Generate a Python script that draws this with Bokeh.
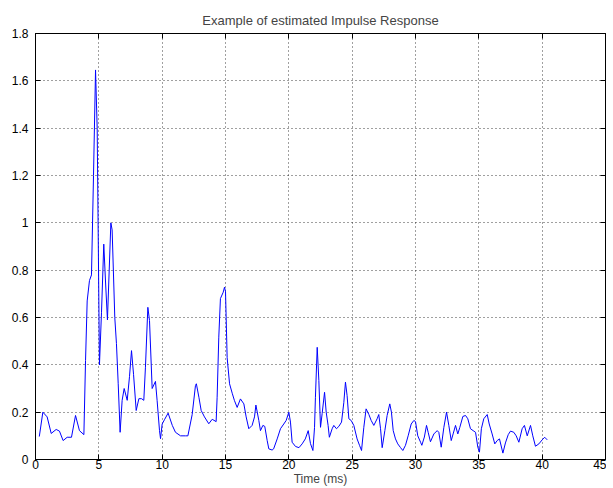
from bokeh.plotting import figure
from bokeh.models import LinearAxis, FixedTicker, CustomJSTickFormatter, Range1d
from bokeh.embed import file_html
from bokeh.resources import INLINE

# Time (ms) and amplitude
t_ms = [0.30, 0.58, 0.92, 1.24, 1.63, 1.89, 2.18, 2.50, 2.84, 3.16, 3.47, 3.82, 3.95, 4.08,
        4.26, 4.42, 4.58, 4.74, 4.87, 5.05, 5.21, 5.39, 5.53, 5.68, 5.95, 6.05, 6.26, 6.39,
        6.53, 6.68, 6.84, 7.00, 7.24, 7.42, 7.58, 7.74, 7.95, 8.16, 8.37, 8.55, 8.68, 8.87,
        9.00, 9.21, 9.47, 9.60, 9.79, 9.87, 10.00, 10.20, 10.47, 10.80, 11.05, 11.45, 11.84,
        12.03, 12.37, 12.63, 12.70, 12.90, 13.08, 13.34, 13.68, 13.95, 14.26, 14.34, 14.47,
        14.60, 14.82, 14.92, 15.00, 15.13, 15.32, 15.53, 15.70, 15.92, 16.18, 16.45, 16.63,
        16.84, 17.10, 17.29, 17.40, 17.63, 17.76, 17.95, 18.10, 18.29, 18.42, 18.68, 18.80,
        19.08, 19.34, 19.60, 19.79, 20.00, 20.13, 20.26, 20.53, 20.80, 21.05, 21.30, 21.53,
        21.71, 21.90, 22.03, 22.10, 22.24, 22.37, 22.50, 22.63, 22.82, 22.95, 23.10, 23.20,
        23.42, 23.55, 23.76, 23.95, 24.16, 24.34, 24.47, 24.60, 24.74, 24.92, 25.13, 25.39,
        25.58, 25.74, 25.92, 26.10, 26.32, 26.50, 26.71, 26.97, 27.10, 27.24, 27.37, 27.58,
        27.76, 27.97, 28.10, 28.24, 28.42, 28.60, 28.82, 29.00, 29.21, 29.42, 29.66, 29.87,
        30.00, 30.18, 30.40, 30.50, 30.70, 30.87, 31.00, 31.18, 31.45, 31.71, 31.84, 32.03,
        32.24, 32.45, 32.63, 32.82, 32.97, 33.16, 33.34, 33.50, 33.74, 33.95, 34.13, 34.34,
        34.55, 34.74, 34.92, 35.05, 35.20, 35.39, 35.66, 35.82, 36.05, 36.26, 36.45, 36.63,
        36.90, 37.10, 37.32, 37.50, 37.76, 37.95, 38.16, 38.42, 38.60, 38.82, 39.08, 39.26,
        39.47, 39.74, 40.00, 40.20, 40.40]
amplitude = [0.097, 0.20, 0.18, 0.11, 0.127, 0.12, 0.08, 0.094, 0.094, 0.186, 0.122, 0.105, 0.418, 0.67,
             0.756, 0.78, 1.20, 1.646, 1.40, 0.40, 0.62, 0.91, 0.75, 0.59, 1.00, 0.97, 0.60, 0.49,
             0.32, 0.115, 0.25, 0.30, 0.25, 0.35, 0.46, 0.36, 0.207, 0.257, 0.257, 0.25, 0.39, 0.643,
             0.587, 0.30, 0.33, 0.25, 0.122, 0.088, 0.15, 0.17, 0.196, 0.144, 0.115, 0.10, 0.10,
             0.10, 0.19, 0.313, 0.32, 0.263, 0.207, 0.18, 0.151, 0.17, 0.16, 0.263, 0.517,
             0.68, 0.707, 0.728, 0.71, 0.43, 0.32, 0.28, 0.25, 0.22, 0.256, 0.235, 0.18,
             0.13, 0.144, 0.18, 0.23, 0.165, 0.122, 0.144, 0.14, 0.08, 0.045, 0.04, 0.045,
             0.087, 0.13, 0.15, 0.165, 0.20, 0.158, 0.073, 0.055, 0.05, 0.066, 0.087, 0.122,
             0.067, 0.038, 0.136, 0.263, 0.474, 0.334, 0.136, 0.194, 0.284, 0.20, 0.144, 0.094,
             0.13, 0.144, 0.13, 0.14, 0.158, 0.24, 0.327, 0.27, 0.172, 0.165, 0.144, 0.087,
             0.06, 0.038, 0.136, 0.214, 0.19, 0.165, 0.144, 0.172, 0.19, 0.13, 0.05, 0.122,
             0.186, 0.235, 0.20, 0.122, 0.087, 0.066, 0.05, 0.038, 0.06, 0.10, 0.15, 0.165,
             0.16, 0.10, 0.073, 0.06, 0.095, 0.144, 0.115, 0.075, 0.108, 0.122, 0.115, 0.052,
             0.136, 0.20, 0.144, 0.08, 0.108, 0.144, 0.108, 0.136, 0.182, 0.186, 0.172, 0.13,
             0.122, 0.115, 0.052, 0.031, 0.13, 0.172, 0.19, 0.15, 0.108, 0.066, 0.08, 0.087,
             0.027, 0.07, 0.105, 0.12, 0.115, 0.10, 0.073, 0.13, 0.144, 0.10, 0.144, 0.10,
             0.056, 0.066, 0.083, 0.094, 0.083]

x_ticks = [0, 5, 10, 15, 20, 25, 30, 35, 40, 45]
y_ticks = [0, 0.2, 0.4, 0.6, 0.8, 1.0, 1.2, 1.4, 1.6, 1.8]

FONT = "Liberation Sans"

p = figure(width=606, height=488, output_backend="svg", toolbar_location=None,
           x_range=Range1d(0, 45), y_range=Range1d(0, 1.8),
           title="Example of estimated Impulse Response",
           min_border_left=35, min_border_right=1, min_border_top=33, min_border_bottom=0)

p.line(t_ms, amplitude, line_color="#0000ff", line_width=1)

p.title.align = "center"
p.title.text_font = FONT
p.title.text_font_size = "13px"
p.title.text_font_style = "normal"
p.title.standoff = 12

p.outline_line_color = "black"
p.outline_line_width = 1
p.outline_line_alpha = 1
p.background_fill_color = "white"
p.border_fill_color = "white"

fmt = CustomJSTickFormatter(code="return Number(tick.toFixed(2)).toString();")

for ax, ticks in ((p.xaxis[0], x_ticks), (p.yaxis[0], y_ticks)):
    ax.ticker = FixedTicker(ticks=ticks)
    ax.formatter = fmt
    ax.major_tick_in = 5
    ax.major_tick_out = 0
    ax.minor_tick_line_color = None
    ax.axis_line_color = "black"
    ax.major_tick_line_color = "black"
    ax.major_label_text_font = FONT
    ax.major_label_text_font_size = "12px"
    ax.major_label_text_color = "black"

p.yaxis[0].major_label_standoff = 7
p.xaxis[0].major_label_standoff = 0
p.xaxis[0].axis_label = "Time (ms)"
p.xaxis[0].axis_label_text_font = FONT
p.xaxis[0].axis_label_text_font_size = "12px"
p.xaxis[0].axis_label_text_font_style = "normal"
p.xaxis[0].axis_label_standoff = 0

# mirrored ticks on top and right (MATLAB box style)
for loc, ticks in (("right", y_ticks), ("above", x_ticks)):
    ax = LinearAxis(ticker=FixedTicker(ticks=ticks))
    ax.major_tick_in = 5
    ax.major_tick_out = 0
    ax.minor_tick_line_color = None
    ax.major_label_text_font_size = "0px"
    ax.major_label_standoff = 0
    ax.axis_line_color = "black"
    ax.major_tick_line_color = "black"
    p.add_layout(ax, loc)

for g, ticks in ((p.xgrid[0], x_ticks), (p.ygrid[0], y_ticks)):
    g.ticker = FixedTicker(ticks=ticks)
    g.grid_line_color = "black"
    g.grid_line_alpha = 0.75
    g.grid_line_dash = "1 3"
    g.grid_line_width = 1

open("out.html", "w").write(file_html(p, INLINE))
